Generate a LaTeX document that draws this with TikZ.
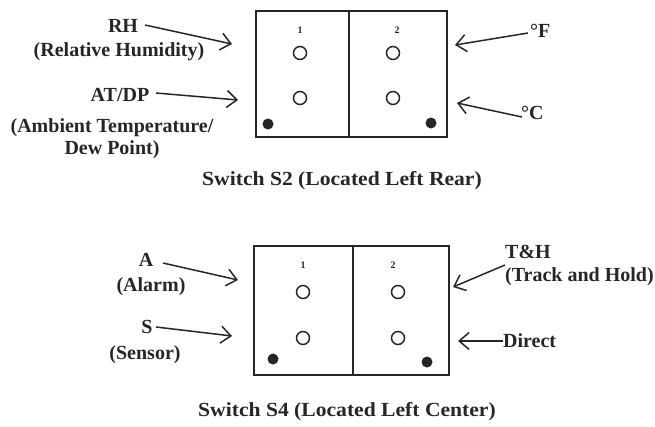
\documentclass[tikz,border=0pt]{standalone}
\usepackage{fontspec}
\setmainfont{Liberation Serif}
\usetikzlibrary{arrows.meta}
\definecolor{ink}{HTML}{262626}
\begin{document}
\begin{tikzpicture}[x=1pt,y=-1pt,
  lbl/.style={font=\bfseries\fontsize{20}{22}\selectfont, text=ink, inner sep=0pt, align=center},
  captxt/.style={font=\bfseries\fontsize{20}{22}\selectfont, text=ink, inner sep=0pt},
  num/.style={font=\bfseries\fontsize{10}{11}\selectfont, text=ink, inner sep=0pt},
  boxline/.style={draw=ink, line width=1.8pt},
  hole/.style={circle, draw=ink, line width=1.5pt, minimum size=13pt, inner sep=0pt},
  dotf/.style={circle, fill=ink, minimum size=11pt, inner sep=0pt},
  arr/.style={draw=ink, line width=1.5pt, -{Straight Barb[length=10pt,width=17pt,line width=1.5pt]}}
]
\useasboundingbox (0,0) rectangle (655,426);
% ---------- Switch S2 ----------
\node[boxline, minimum width=191pt, minimum height=126pt, inner sep=0pt, anchor=north west] (boxA) at (255,10) {};
\draw[boxline] (349,10) -- (349,136);
\node[num] (a1) at (300,30) {1};
\node[num] (a2) at (397,30) {2};
\node[hole] (ah1) at (300,53) {};
\node[hole] (ah2) at (300,98) {};
\node[hole] (ah3) at (393,53) {};
\node[hole] (ah4) at (393,98) {};
\node[dotf] (ad1) at (268,124) {};
\node[dotf] (ad2) at (431,123) {};
\node[lbl] (rh) at (123,26) {RH};
\node[lbl] (rhd) at (119,52) {(Relative Humidity)};
\node[lbl] (atdp) at (120,95) {AT/DP};
\node[lbl] (atdpd) at (112,139) {(Ambient Temperature/\\Dew Point)};
\node[lbl, anchor=west] (degF) at (530,31) {°F};
\node[lbl, anchor=west] (degC) at (521,113) {°C};
\coordinate (rhS) at (145,25);
\coordinate (rhE) at (232,44);
\coordinate (atS) at (156,93);
\coordinate (atE) at (238,100);
\coordinate (fS) at (528,33);
\coordinate (fE) at (455,45);
\coordinate (cS) at (522,117);
\coordinate (cE) at (457,103);
\draw[arr] (rhS) -- (rhE);
\draw[arr] (atS) -- (atE);
\draw[arr] (fS) -- (fE);
\draw[arr] (cS) -- (cE);
\node[captxt] (capA) at (342,181) {\scalebox{1.08}[1]{Switch S2 (Located Left Rear)}};
% ---------- Switch S4 ----------
\node[boxline, minimum width=195pt, minimum height=129pt, inner sep=0pt, anchor=north west] (boxB) at (253,245) {};
\draw[boxline] (353,245) -- (353,374);
\node[num] (b1) at (303,265) {1};
\node[num] (b2) at (393,265) {2};
\node[hole] (bh1) at (303,292) {};
\node[hole] (bh2) at (303,338) {};
\node[hole] (bh3) at (398,292) {};
\node[hole] (bh4) at (398,338) {};
\node[dotf] (bd1) at (273,359) {};
\node[dotf] (bd2) at (427,362) {};
\node[lbl] (aA) at (146,260) {A};
\node[lbl] (aAd) at (151,287) {(Alarm)};
\node[lbl] (sS) at (147,327) {S};
\node[lbl] (sSd) at (145,355) {(Sensor)};
\node[lbl, anchor=west] (th) at (505,252) {T\&H};
\node[lbl, anchor=west] (thd) at (505,277) {(Track and Hold)};
\node[lbl, anchor=west] (dir) at (503,341) {Direct};
\coordinate (aS) at (163,263);
\coordinate (aE) at (238,280);
\coordinate (sS2) at (156,327);
\coordinate (sE) at (232,336);
\coordinate (thS) at (505,265);
\coordinate (thE) at (453,287);
\coordinate (dE) at (458,341);
\draw[arr] (aS) -- (aE);
\draw[arr] (sS2) -- (sE);
\draw[arr] (thS) -- (thE);
\draw[arr] (dir.west) -- (dE);
\node[captxt] (capB) at (347,412) {\scalebox{1.08}[1]{Switch S4 (Located Left Center)}};
\end{tikzpicture}
\end{document}
